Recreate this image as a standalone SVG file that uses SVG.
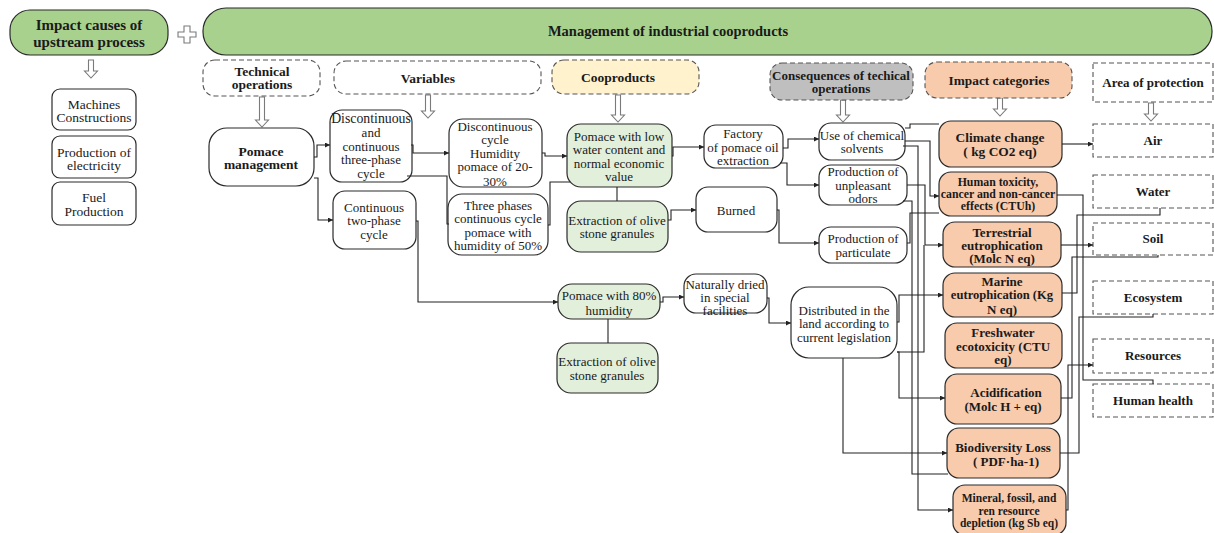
<svg xmlns="http://www.w3.org/2000/svg" width="1214" height="533" viewBox="0 0 1214 533">
  <defs>
    <marker id="tip" viewBox="0 0 6 6" refX="6" refY="3" markerWidth="5" markerHeight="5" markerUnits="userSpaceOnUse" orient="auto">
      <path d="M0,0 L6,3 L0,6 z" fill="#222"/>
    </marker>
    <style>
      text { font-family: "Liberation Serif", "DejaVu Serif", serif; font-size: 13px; fill: #1a1a1a; text-anchor: middle; dominant-baseline: central; }
      .b { font-weight: bold; }
      .box { fill: #fff; stroke: #2b2b2b; stroke-width: 1.2; }
      .grn { fill: #a9d18e; stroke: #2b2b2b; stroke-width: 1.2; }
      .lgrn { fill: #e2efda; stroke: #2b2b2b; stroke-width: 1.2; }
      .org { fill: #f8cbad; stroke: #2b2b2b; stroke-width: 1.2; }
      .dash { fill: #fff; stroke: #555; stroke-width: 1.1; stroke-dasharray: 5 3; }
      .dyel { fill: #fff2cc; stroke: #555; stroke-width: 1.1; stroke-dasharray: 5 3; }
      .dgry { fill: #bfbfbf; stroke: #555; stroke-width: 1.1; stroke-dasharray: 5 3; }
      .dorg { fill: #f8cbad; stroke: #555; stroke-width: 1.1; stroke-dasharray: 5 3; }
      .hollow { fill: #fff; stroke: #7a7a7a; stroke-width: 1.1; }
      .ln { fill: none; stroke: #222; stroke-width: 1.1; }
      .ar { marker-end: url(#tip); }
      .ic { font-weight: bold; font-size: 13px; }
    </style>
  </defs>

  <!-- headers -->
  <g id="upstream">
    <rect class="grn" x="10" y="10" width="158" height="45" rx="20"/>
    <text class="b" x="89" y="25" style="font-size:15px">Impact causes of</text>
    <text class="b" x="89" y="42" style="font-size:15px">upstream process</text>
  </g>
  <g id="plus">
    <path class="hollow" d="M184,26 H190 V32 H196 V37 H190 V43 H184 V37 H178 V32 H184 Z"/>
  </g>
  <g id="management">
    <rect class="grn" x="203" y="8" width="1009" height="47" rx="23"/>
    <text class="b" x="668" y="31" style="font-size:14.5px">Management of industrial cooproducts</text>
  </g>

  <!-- hollow down arrows -->
  <g id="down-arrows">
    <path class="hollow" d="M88.5,60 H93.5 V71 H97.5 L91,78 L84.5,71 H88.5 Z"/>
    <path class="hollow" d="M259.5,97 H264.5 V120 H268.5 L262,127 L255.5,120 H259.5 Z"/>
    <path class="hollow" d="M425.5,95 H430.5 V111 H434.5 L428,118 L421.5,111 H425.5 Z"/>
    <path class="hollow" d="M615.5,95 H620.5 V115 H624.5 L618,122 L611.5,115 H615.5 Z"/>
    <path class="hollow" d="M840.5,100 H845.5 V115 H849.5 L843,122 L836.5,115 H840.5 Z"/>
    <path class="hollow" d="M997.5,98 H1002.5 V109 H1006.5 L1000,116 L993.5,109 H997.5 Z"/>
    <path class="hollow" d="M1148.5,103 H1153.5 V114 H1157.5 L1151,121 L1144.5,114 H1148.5 Z"/>
  </g>

  <!-- upstream items -->
  <g id="machines">
    <rect class="box" x="52" y="89" width="84" height="41" rx="8"/>
    <text x="94" y="104" style="font-size:13.5px">Machines</text>
    <text x="94" y="117" style="font-size:13.5px">Constructions</text>
  </g>
  <g id="electricity">
    <rect class="box" x="52" y="136" width="84" height="42" rx="8"/>
    <text x="94" y="152" style="font-size:13.5px">Production of</text>
    <text x="94" y="165" style="font-size:13.5px">electricity</text>
  </g>
  <g id="fuel">
    <rect class="box" x="52" y="182" width="84" height="43" rx="8"/>
    <text x="94" y="197" style="font-size:13.5px">Fuel</text>
    <text x="94" y="211" style="font-size:13.5px">Production</text>
  </g>

  <!-- column headers -->
  <g id="technical">
    <rect class="dash" x="203" y="60" width="117" height="36" rx="12"/>
    <text class="b" x="262" y="71" style="font-size:13.5px">Technical</text>
    <text class="b" x="262" y="84" style="font-size:13.5px">operations</text>
  </g>
  <g id="variables">
    <rect class="dash" x="334" y="61" width="207" height="33" rx="12"/>
    <text class="b" x="428" y="78" style="font-size:13.5px">Variables</text>
  </g>
  <g id="cooproducts">
    <rect class="dyel" x="552" y="60" width="147" height="34" rx="12"/>
    <text class="b" x="618" y="77" style="font-size:13.5px">Cooproducts</text>
  </g>
  <g id="consequences">
    <rect class="dgry" x="770" y="63" width="143" height="37" rx="12"/>
    <text class="b" x="841" y="75">Consequences of techical</text>
    <text class="b" x="841" y="88">operations</text>
  </g>
  <g id="impact-categories">
    <rect class="dorg" x="925" y="62" width="147" height="36" rx="12"/>
    <text class="b" x="999" y="80" style="font-size:13.3px">Impact categories</text>
  </g>
  <g id="area-protection">
    <rect class="dash" x="1093" y="63" width="120" height="39"/>
    <text class="b" x="1153" y="82">Area of protection</text>
  </g>

  <!-- technical operations and variables -->
  <g id="pomace-management">
    <rect class="box" x="209" y="128" width="105" height="58" rx="18"/>
    <text class="b" x="261" y="151" style="font-size:13.5px">Pomace</text>
    <text class="b" x="261" y="164" style="font-size:13.5px">management</text>
  </g>
  <g id="three-phase">
    <rect class="box" x="330" y="110" width="82" height="72" rx="12"/>
    <text x="371" y="118" style="font-size:13.8px">Discontinuous</text>
    <text x="371" y="132">and</text>
    <text x="371" y="146">continuous</text>
    <text x="371" y="159">three-phase</text>
    <text x="371" y="173">cycle</text>
  </g>
  <g id="two-phase">
    <rect class="box" x="333" y="191" width="83" height="58" rx="12"/>
    <text x="374" y="207">Continuous</text>
    <text x="374" y="220">two-phase</text>
    <text x="374" y="234">cycle</text>
  </g>
  <g id="discontinuous-cycle">
    <rect class="box" x="449" y="119" width="93" height="68" rx="14"/>
    <text x="495" y="126">Discontinuous</text>
    <text x="495" y="139">cycle</text>
    <text x="495" y="153">Humidity</text>
    <text x="495" y="166">pomace of 20-</text>
    <text x="495" y="181">30%</text>
  </g>
  <g id="continuous-cycle">
    <rect class="box" x="448" y="194" width="100" height="61" rx="14"/>
    <text x="498" y="205">Three phases</text>
    <text x="498" y="218">continuous cycle</text>
    <text x="498" y="232">pomace with</text>
    <text x="498" y="245">humidity of 50%</text>
  </g>

  <!-- cooproducts -->
  <g id="low-water">
    <rect class="lgrn" x="567" y="124" width="105" height="63" rx="14"/>
    <text x="619" y="136">Pomace with low</text>
    <text x="619" y="149">water content and</text>
    <text x="619" y="163">normal economic</text>
    <text x="619" y="176">value</text>
  </g>
  <g id="granules-1">
    <rect class="lgrn" x="567" y="201" width="101" height="51" rx="14"/>
    <text x="617" y="220">Extraction of olive</text>
    <text x="617" y="233">stone granules</text>
  </g>
  <g id="humidity-80">
    <rect class="lgrn" x="558" y="284" width="102" height="35" rx="14"/>
    <text x="609" y="295">Pomace with 80%</text>
    <text x="609" y="310">humidity</text>
  </g>
  <g id="granules-2">
    <rect class="lgrn" x="557" y="343" width="101" height="50" rx="14"/>
    <text x="607" y="361">Extraction of olive</text>
    <text x="607" y="375">stone granules</text>
  </g>
  <g id="factory">
    <rect class="box" x="704" y="125" width="79" height="43" rx="12"/>
    <text x="743" y="133">Factory</text>
    <text x="743" y="147">of pomace oil</text>
    <text x="743" y="160">extraction</text>
  </g>
  <g id="burned">
    <rect class="box" x="696" y="187" width="81" height="45" rx="12"/>
    <text x="736" y="210">Burned</text>
  </g>
  <g id="dried">
    <rect class="box" x="684" y="274" width="83" height="39" rx="12"/>
    <text x="725" y="284">Naturally dried</text>
    <text x="725" y="297">in special</text>
    <text x="725" y="310">facilities</text>
  </g>

  <!-- consequences -->
  <g id="solvents">
    <rect class="box" x="819" y="123" width="86" height="37" rx="12"/>
    <text x="862" y="135">Use of chemical</text>
    <text x="862" y="148">solvents</text>
  </g>
  <g id="odors">
    <rect class="box" x="819" y="165" width="88" height="40" rx="12"/>
    <text x="863" y="171">Production of</text>
    <text x="863" y="185">unpleasant</text>
    <text x="863" y="198">odors</text>
  </g>
  <g id="particulate">
    <rect class="box" x="819" y="227" width="88" height="36" rx="12"/>
    <text x="863" y="238">Production of</text>
    <text x="863" y="252">particulate</text>
  </g>
  <g id="distributed">
    <rect class="box" x="791" y="287" width="106" height="71" rx="18"/>
    <text x="844" y="310">Distributed in the</text>
    <text x="844" y="323">land according to</text>
    <text x="844" y="337">current legislation</text>
  </g>

  <!-- impact categories -->
  <g id="climate">
    <rect class="org" x="939" y="121" width="123" height="46" rx="12"/>
    <text class="ic" x="1000" y="137" style="font-size:13.4px">Climate change</text>
    <text class="ic" x="1000" y="151" style="font-size:13.4px">( kg CO2 eq)</text>
  </g>
  <g id="toxicity">
    <rect class="org" x="939" y="172" width="118" height="44" rx="12"/>
    <text class="ic" x="998" y="182" style="font-size:11.8px">Human toxicity,</text>
    <text class="ic" x="998" y="194" style="font-size:11.8px">cancer and non-cancer</text>
    <text class="ic" x="998" y="206" style="font-size:11.8px">effects (CTUh)</text>
  </g>
  <g id="terrestrial">
    <rect class="org" x="943" y="222" width="118" height="45" rx="12"/>
    <text class="ic" x="1002" y="232">Terrestrial</text>
    <text class="ic" x="1002" y="245">eutrophication</text>
    <text class="ic" x="1002" y="258">(Molc N eq)</text>
  </g>
  <g id="marine">
    <rect class="org" x="943" y="273" width="119" height="44" rx="12"/>
    <text class="ic" x="1002" y="281">Marine</text>
    <text class="ic" x="1002" y="295" style="font-size:12.6px">eutrophication (Kg</text>
    <text class="ic" x="1002" y="309">N eq)</text>
  </g>
  <g id="freshwater">
    <rect class="org" x="945" y="323" width="117" height="45" rx="12"/>
    <text class="ic" x="1003" y="332">Freshwater</text>
    <text class="ic" x="1003" y="346">ecotoxicity (CTU</text>
    <text class="ic" x="1003" y="359">eq)</text>
  </g>
  <g id="acidification">
    <rect class="org" x="945" y="374" width="116" height="50" rx="12"/>
    <text class="ic" x="1006" y="392">Acidification</text>
    <text class="ic" x="1003" y="406">(Molc H + eq)</text>
  </g>
  <g id="biodiversity">
    <rect class="org" x="947" y="428" width="113" height="50" rx="12"/>
    <text class="ic" x="1003" y="447">Biodiversity Loss</text>
    <text class="ic" x="1006" y="461">( PDF·ha-1)</text>
  </g>
  <g id="mineral">
    <rect class="org" x="953" y="485" width="113" height="50" rx="12"/>
    <text class="ic" x="1009" y="498" style="font-size:11.5px">Mineral, fossil, and</text>
    <text class="ic" x="1009" y="511" style="font-size:11.5px">ren resource</text>
    <text class="ic" x="1009" y="523" style="font-size:11.5px">depletion (kg Sb eq)</text>
  </g>

  <!-- areas of protection -->
  <g id="air">
    <rect class="dash" x="1093" y="124" width="120" height="33"/>
    <text class="b" x="1153" y="140">Air</text>
  </g>
  <g id="water">
    <rect class="dash" x="1093" y="175" width="120" height="33"/>
    <text class="b" x="1153" y="191">Water</text>
  </g>
  <g id="soil">
    <rect class="dash" x="1093" y="223" width="120" height="32"/>
    <text class="b" x="1153" y="238">Soil</text>
  </g>
  <g id="ecosystem">
    <rect class="dash" x="1093" y="281" width="120" height="33"/>
    <text class="b" x="1153" y="297">Ecosystem</text>
  </g>
  <g id="resources">
    <rect class="dash" x="1093" y="339" width="120" height="34"/>
    <text class="b" x="1153" y="355">Resources</text>
  </g>
  <g id="human-health">
    <rect class="dash" x="1093" y="384" width="120" height="33"/>
    <text class="b" x="1153" y="400">Human health</text>
  </g>

  <!-- connectors -->
  <g id="connectors">
    <path class="ln ar" d="M314,157 H317 V145 H330"/>
    <path class="ln ar" d="M314,178 H318 V220 H333"/>
    <path class="ln ar" d="M411,145 H413 V153 H449"/>
    <path class="ln" d="M407,176 H447 V224 H449"/>
    <path class="ln ar" d="M542,153 H545 V156 H567"/>
    <path class="ln" d="M548,225 H550 V182 H570"/>
    <path class="ln" d="M617,187 V201"/>
    <path class="ln ar" d="M672,156 H673 V147 H704"/>
    <path class="ln ar" d="M668,220 H671 V210 H696"/>
    <path class="ln ar" d="M783,148 H788 V139 H819"/>
    <path class="ln ar" d="M780,163 H787 V185 H819"/>
    <path class="ln ar" d="M777,210 H779 V243 H819"/>
    <path class="ln ar" d="M416,221 H418 V302 H558"/>
    <path class="ln ar" d="M660,302 H663 V297 H684"/>
    <path class="ln" d="M608,319 V343"/>
    <path class="ln ar" d="M767,298 H769 V323 H791"/>

    <!-- consequences to impact categories -->
    <path class="ln" d="M905,128 H910 V124 H939"/>
    <path class="ln ar" d="M905,141 H930 V196 H939"/>
    <path class="ln ar" d="M903,146 H918 V510 H953"/>
    <path class="ln ar" d="M907,185 H925 V245 H943"/>
    <path class="ln" d="M903,201 H912 V474 H948"/>
    <path class="ln" d="M907,243 H910 V213 H939"/>
    <path class="ln" d="M897,352 H924 V245"/>
    <path class="ln ar" d="M897,322 H899 V295 H943"/>
    <path class="ln ar" d="M897,352 H899 V398 H945"/>
    <path class="ln ar" d="M843,358 V453 H947"/>

    <!-- impact categories to areas of protection -->
    <path class="ln ar" d="M1062,144 H1093"/>
    <path class="ln ar" d="M1061,245 H1093"/>
    <path class="ln" d="M1057,195 H1083 V380 H1153 V384"/>
    <path class="ln" d="M1062,293 H1077 V215 H1160 V208"/>
    <path class="ln" d="M1061,398 H1072 V257 H1158 V255"/>
    <path class="ln" d="M1060,453 H1079 V317 H1153 V314"/>
    <path class="ln ar" d="M1066,510 H1068 V365 H1093"/>
  </g>
</svg>
